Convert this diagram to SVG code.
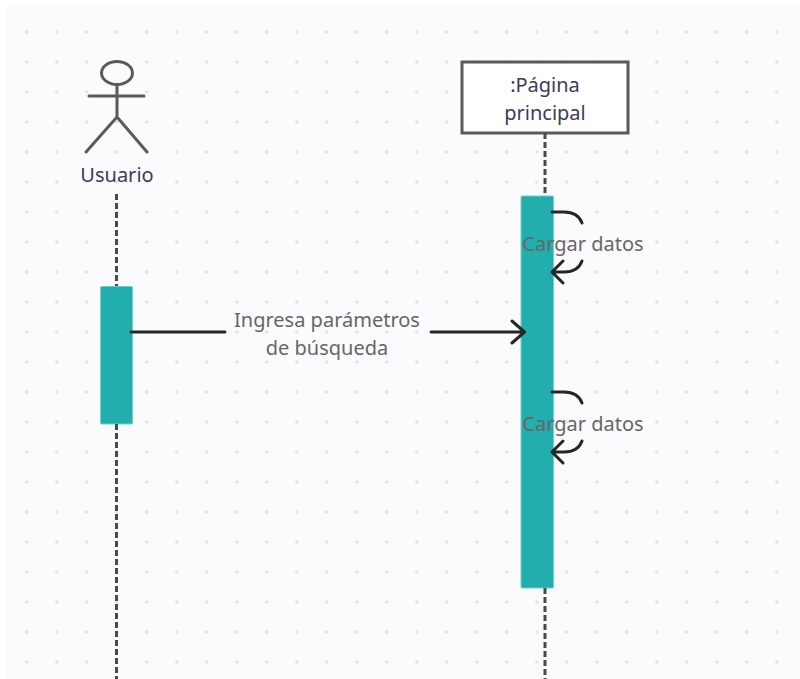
<svg xmlns="http://www.w3.org/2000/svg" width="800" height="679" viewBox="0 0 800 679">
<style>
text{font-family:"Noto Sans","Open Sans",sans-serif;font-size:20px;text-anchor:middle}
.dark{fill:#3c3c58}
.lbl{fill:#666666}
.life{stroke:#4a4a4a;stroke-width:3;stroke-dasharray:6 3;fill:none}
.act{fill:#22aeac;stroke:#6fd0cc;stroke-width:1}
.msg{fill:none;stroke:#262626;stroke-width:3;stroke-linecap:round;stroke-linejoin:round}
.stick{fill:none;stroke:#5a5a5a;stroke-width:3;stroke-linecap:round}
</style>
<defs><pattern id="dots" x="26.7" y="32" width="30" height="30" patternUnits="userSpaceOnUse"><circle cx="0" cy="0" r="1.7" fill="#e2e2e4"/><circle cx="30" cy="0" r="1.7" fill="#e2e2e4"/><circle cx="0" cy="30" r="1.7" fill="#e2e2e4"/><circle cx="30" cy="30" r="1.7" fill="#e2e2e4"/></pattern></defs>
<rect width="800" height="679" fill="#ffffff"/>
<rect x="6" y="4" width="794" height="675" fill="#fbfbfd"/>
<rect x="6" y="4" width="794" height="675" fill="url(#dots)"/>
<g id="usuario">
<ellipse cx="117" cy="73" rx="15.500" ry="11.500" fill="#fbfbfd" stroke="#5a5a5a" stroke-width="3"/>
<path class="stick" d="M117 85V117M89 96H144M117 117L86 152M117 117L147 152"/>
<text class="dark" x="117" y="182">Usuario</text>
</g>
<g id="pagina">
<rect x="462" y="62" width="166" height="71" fill="#ffffff" stroke="#5a5a5a" stroke-width="3"/>
<text class="dark" x="545" y="92">:Página</text>
<text class="dark" x="545" y="120">principal</text>
</g>
<g id="act-usuario"><rect class="act" x="100.500" y="286.500" width="32" height="137.500" rx="1"/></g>
<g id="act-pagina"><rect class="act" x="521" y="196" width="32.500" height="392" rx="1"/></g>
<g id="connectors">
<path class="life" d="M116.500 194V286M116.500 424V679"/>
<path class="life" d="M545 133V196M545 588V679"/>
<path class="msg" d="M131 332H225M431 332H524M512 321L524.500 332L512 343"/>
<path class="msg" d="M552 212H564Q578 212 582 223"/>
<path class="msg" d="M582 261Q578 272 564 272H552M563 261L552 272L563 283"/>
<path class="msg" d="M552 392H564Q578 392 582 403"/>
<path class="msg" d="M582 441Q578 452 564 452H552M563 441L552 452L563 463"/>
</g>
<g id="labels">
<text class="lbl" x="327" y="327">Ingresa parámetros</text>
<text class="lbl" x="327" y="355">de búsqueda</text>
<text class="lbl" x="583" y="251">Cargar datos</text>
<text class="lbl" x="583" y="431">Cargar datos</text>
</g>
</svg>
